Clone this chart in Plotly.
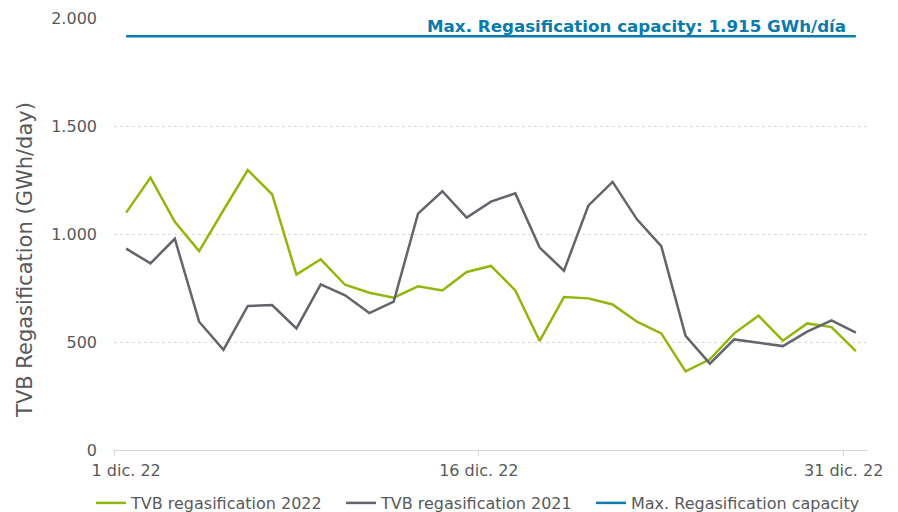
import pandas as pd
import plotly.graph_objects as go

days = list(range(1, 32))
tvb_2022 = [1099, 1261, 1056, 921, 1110, 1296, 1184, 812, 883, 765, 728, 705, 758, 739, 824, 852,
            739, 505, 708, 702, 674, 594, 540, 364, 420, 540, 622, 506, 586, 569, 458]
tvb_2021 = [932, 864, 978, 594, 464, 667, 671, 563, 767, 716, 634, 687, 1094, 1198, 1076, 1150,
            1188, 937, 830, 1131, 1241, 1068, 944, 528, 400, 512, 497, 481, 548, 600, 543]
max_capacity = 1915
tick_days = [1, 16, 31]
tick_labels = ["1 dic. 22", "16 dic. 22", "31 dic. 22"]
y_ticks = [0, 500, 1000, 1500, 2000]

dates = [pd.Timestamp(2022, 12, d) + pd.Timedelta(hours=12) for d in days]
tick_marks = [pd.Timestamp(2022, 12, d) for d in tick_days]
label_pos = [tick_marks[0] + pd.Timedelta(hours=12)] + tick_marks[1:]

GREEN = "#93b60c"
GRAY = "#626569"
BLUE = "#0a7bab"
TXT = "#595959"
FONT = "DejaVu Sans"

# The page body has an 8px margin, so the figure is 890x504 to fill the window.
W, H = 890, 504
ML, MR, MT, MB = 106, 30, 10, 62
PW, PH = W - ML - MR, H - MT - MB

fig = go.Figure()
fig.add_trace(go.Scatter(x=dates, y=tvb_2022, mode="lines", name="TVB regasification 2022",
                         line=dict(color=GREEN, width=2.5), legend="legend"))
fig.add_trace(go.Scatter(x=dates, y=tvb_2021, mode="lines", name="TVB regasification 2021",
                         line=dict(color=GRAY, width=2.5), legend="legend"))
fig.add_trace(go.Scatter(x=dates, y=[max_capacity] * len(dates), mode="lines",
                         name="Max. Regasification capacity",
                         line=dict(color=BLUE, width=2.5), legend="legend2"))

fig.add_annotation(x=dates[-1], y=max_capacity, xref="x", yref="y",
                   text="<b>Max. Regasification capacity: 1.915 GWh/día</b>",
                   showarrow=False, xanchor="right", yanchor="bottom", xshift=-8, yshift=-2,
                   font=dict(family=FONT, size=16.7, color=BLUE))

fig.add_annotation(x=-89 / PW, y=0.44, xref="paper", yref="paper", xanchor="center",
                   yanchor="middle", textangle=-90, showarrow=False,
                   text="TVB Regasification (GWh/day)",
                   font=dict(family=FONT, size=21, color=TXT))

legend_common = dict(orientation="h", xref="paper", xanchor="left", yref="paper",
                     y=-53 / PH, yanchor="middle", bgcolor="rgba(0,0,0,0)",
                     font=dict(family=FONT, size=16, color=TXT), itemwidth=30)

fig.update_layout(
    width=W, height=H,
    margin=dict(l=ML, r=MR, t=MT, b=MB, autoexpand=False),
    paper_bgcolor="white", plot_bgcolor="white",
    separators=",.",
    font=dict(family=FONT, size=16, color=TXT),
    showlegend=True,
    legend=dict(x=-23 / PW, entrywidth=205, **legend_common),
    legend2=dict(x=477 / PW, **legend_common),
    xaxis=dict(range=[pd.Timestamp(2022, 12, 1), pd.Timestamp(2023, 1, 1)],
               tickvals=label_pos, ticktext=tick_labels, ticks="", automargin=False,
               minor=dict(tickvals=tick_marks, ticks="outside", ticklen=5, tickcolor="#d9d9d9",
                          showgrid=False),
               showgrid=False, zeroline=False, showline=True, linecolor="#d9d9d9", linewidth=1,
               ticklabelstandoff=6,
               tickfont=dict(family=FONT, size=16, color=TXT)),
    yaxis=dict(range=[0, 2000], tickvals=y_ticks, tickformat=",d", automargin=False,
               showgrid=True, gridcolor="#d9d9d9", griddash="dot", gridwidth=1,
               zeroline=False, showline=False, ticks="", ticklabelstandoff=16,
               tickfont=dict(family=FONT, size=16, color=TXT)),
)

fig.write_html("out.html")
